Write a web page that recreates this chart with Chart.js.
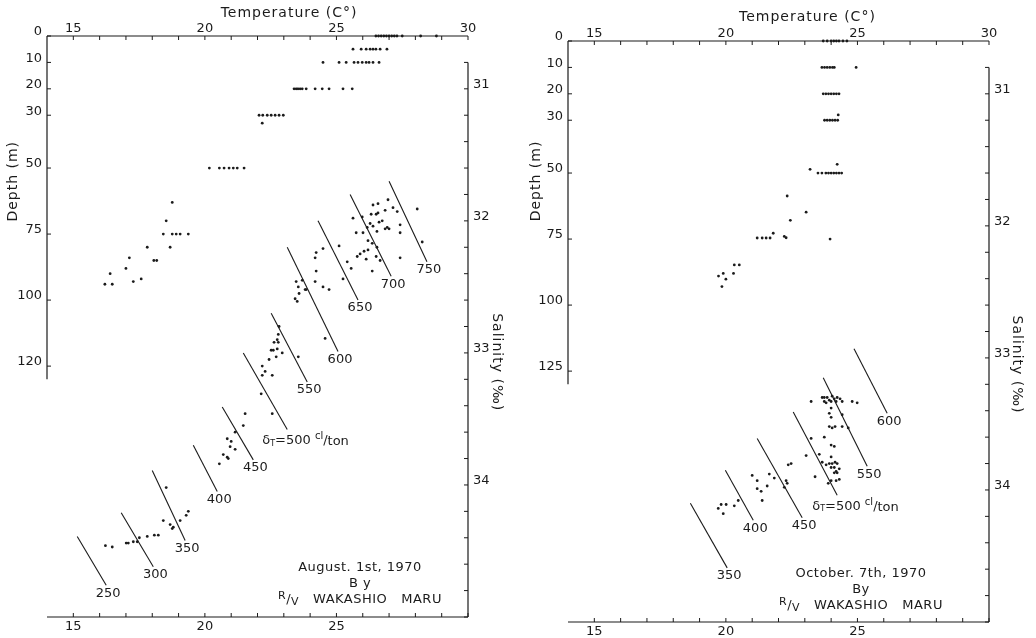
<!DOCTYPE html>
<html>
<head>
<meta charset="utf-8">
<script src="https://cdn.jsdelivr.net/npm/chart.js@4.4.0/dist/chart.umd.min.js"></script>
<style>
  html, body { margin: 0; padding: 0; background: #fff; }
  #wrap { position: relative; width: 1036px; height: 638px; }
  .panel { position: absolute; top: 0; width: 518px; height: 638px; }
</style>
</head>
<body>
<div id="wrap">
  <div class="panel" style="left:0"><canvas id="chartAug" width="518" height="638"></canvas></div>
  <div class="panel" style="left:518px"><canvas id="chartOct" width="518" height="638"></canvas></div>
</div>
<script>
// ---- axes ----
const tempTicks = [15, 16, 17, 18, 19, 20, 21, 22, 23, 24, 25, 26, 27, 28, 29, 30];
const tempLabelsTop = [15, 20, 25, 30];
const tempLabelsBottom = [15, 20, 25];
const depthTicks = [0, 10, 20, 30, 50, 75, 100, 125];
const depthLabelsAug = ['0', '10', '20', '30', '50', '75', '100', '120'];
const depthLabelsOct = ['0', '10', '20', '30', '50', '75', '100', '125'];
const salTicks = [30.8, 31, 31.2, 31.4, 31.6, 31.8, 32, 32.2, 32.4, 32.6, 32.8, 33,
                  33.2, 33.4, 33.6, 33.8, 34, 34.2, 34.4, 34.6, 34.8, 35];
const salLabels = [31, 32, 33, 34];

// ---- August 1st: temperature (C) vs depth (m) ----
const augProfile = [
  [26.5,0],[26.6,0],[26.7,0],[26.8,0],[26.9,0],[27.0,0],[27.1,0],[27.2,0],[27.3,0],[27.5,0],[28.2,0],[28.8,0],
  [25.63,5],[25.94,5],[26.13,5],[26.28,5],[26.39,5],[26.5,5],[26.66,5],[26.92,5],
  [24.49,10],[25.1,10],[25.37,10],[25.67,10],[25.82,10],[25.98,10],[26.13,10],[26.24,10],[26.39,10],[26.62,10],
  [23.39,20],[23.47,20],[23.54,20],[23.62,20],[23.7,20],[23.85,20],[24.19,20],[24.46,20],[24.72,20],[25.25,20],[25.6,20],
  [22.06,30],[22.2,30],[22.37,30],[22.52,30],[22.67,30],[22.82,30],[22.98,30],[22.18,33],
  [20.17,50],[20.55,50],[20.73,50],[20.92,50],[21.08,50],[21.23,50],[21.49,50],
  [18.76,63],[18.53,70],[18.42,75],[18.76,75],[18.91,75],[19.06,75],[19.37,75],[18.68,80],[17.81,80],
  [17.13,84],[18.06,85],[18.17,85],[17.0,88],[16.4,90],[16.2,94],[16.48,94],[17.28,93],[17.58,92]
];
// August 1st: temperature vs salinity
const augTS = [
  [26.39,31.88],[26.58,31.87],[26.96,31.84],[26.32,31.95],[26.51,31.95],[26.58,31.94],[26.85,31.92],[27.15,31.90],[27.31,31.93],[28.07,31.91],
  [25.63,31.98],[25.98,31.97],[26.28,32.02],[26.39,32.04],[26.62,32.01],[26.74,32.00],[26.17,32.05],[26.54,32.08],[26.85,32.06],[26.93,32.05],
  [27.00,32.06],[27.42,32.03],[25.75,32.09],[26.01,32.09],[27.42,32.09],[26.20,32.15],[26.36,32.17],[25.10,32.19],[26.54,32.20],[24.49,32.21],
  [24.23,32.24],[24.19,32.28],[26.05,32.23],[26.20,32.22],[25.90,32.25],[25.79,32.27],[26.13,32.29],[26.51,32.27],[26.66,32.30],[27.42,32.28],
  [28.26,32.16],[25.41,32.31],[25.56,32.36],[24.23,32.38],[26.36,32.38],[24.19,32.46],[24.49,32.50],[24.72,32.52],[25.25,32.44],[23.81,32.52],
  [23.47,32.46],[23.55,32.50],[23.70,32.45],[23.85,32.52],[23.58,32.55],[23.43,32.59],[23.51,32.61],[24.57,32.89],[22.82,32.80],[22.79,32.86],
  [22.75,32.90],[22.63,32.92],[22.79,32.92],[22.52,32.98],[22.60,32.98],[22.94,33.00],[22.75,32.97],[22.44,33.05],[22.71,33.03],[23.55,33.03],
  [22.18,33.10],[22.29,33.14],[22.18,33.17],[22.56,33.17],[22.14,33.31],[22.56,33.46],[21.53,33.46],[21.46,33.55],[21.15,33.60],[20.85,33.65],
  [21.00,33.67],[20.96,33.71],[21.15,33.73],[20.70,33.77],[20.85,33.79],[20.89,33.80],[20.55,33.84],[18.53,34.02],[18.42,34.27],[18.68,34.30],
  [18.76,34.33],[18.80,34.32],[19.06,34.27],[19.29,34.23],[19.37,34.20],[18.08,34.38],[18.23,34.38],[17.81,34.39],[17.51,34.40],[17.43,34.43],
  [17.28,34.43],[17.09,34.44],[17.01,34.44],[16.22,34.46],[16.48,34.47]
];
// specific volume anomaly lines (cl/ton), [temp, salinity] at each end
const augIsoValues = [250, 300, 350, 400, 450, 500, 550, 600, 650, 700, 750];
const augIsoStart = [[15.15,34.39],[16.82,34.21],[18.00,33.89],[19.56,33.70],[20.66,33.41],[21.46,33.00],
                     [22.52,32.70],[23.13,32.20],[24.30,32.00],[25.52,31.80],[27.00,31.70]];
const augIsoEnd = [[16.25,34.76],[18.04,34.62],[19.25,34.42],[20.47,34.05],[21.84,33.81],[23.13,33.58],
                   [23.89,33.22],[25.06,32.99],[25.82,32.60],[27.08,32.42],[28.44,32.31]];

// ---- October 7th ----
const octProfile = [
  [23.7,0],[23.85,0],[24.0,0],[24.1,0],[24.2,0],[24.3,0],[24.45,0],[24.6,0],
  [23.65,10],[23.75,10],[23.85,10],[23.95,10],[24.05,10],[24.12,10],[24.95,10],
  [23.7,20],[23.8,20],[23.9,20],[24.0,20],[24.1,20],[24.2,20],[24.3,20],
  [23.75,30],[23.85,30],[23.95,30],[24.05,30],[24.15,30],[24.25,30],[24.27,28],
  [23.5,50],[23.65,50],[23.8,50],[23.9,50],[24.0,50],[24.1,50],[24.2,50],[24.3,50],[24.4,50],[23.2,48.6],[24.23,46.7],
  [22.33,58.7],[23.05,64.8],[22.45,67.9],[23.96,75],
  [21.19,74.6],[21.38,74.6],[21.53,74.6],[21.68,74.6],[21.8,72.8],[22.22,74],[22.29,74.5],
  [20.32,84.8],[20.51,84.8],[20.29,88],[19.9,88],[19.72,89],[20.0,90.2],[19.85,93]
];
const octTS = [
  [23.24,33.33],[23.66,33.30],[23.74,33.33],[23.81,33.34],[23.85,33.30],[23.93,33.32],[24.00,33.33],[24.04,33.29],[24.12,33.31],[24.19,33.33],
  [24.23,33.30],[24.34,33.31],[24.42,33.33],[23.74,33.30],[24.80,33.33],[24.99,33.34],[24.00,33.38],[23.93,33.42],[24.00,33.45],[24.42,33.43],
  [23.93,33.52],[24.04,33.53],[24.15,33.52],[24.42,33.52],[24.65,33.53],[23.24,33.61],[23.74,33.60],[24.00,33.66],[24.12,33.67],[23.05,33.74],
  [23.55,33.73],[24.00,33.75],[23.66,33.79],[23.81,33.81],[23.93,33.80],[24.04,33.80],[24.15,33.79],[24.23,33.80],[24.12,33.83],[24.19,33.86],
  [24.31,33.84],[24.00,33.83],[24.12,33.87],[24.23,33.87],[23.89,33.95],[24.00,33.93],[24.19,33.93],[24.31,33.92],[23.39,33.90],[22.37,33.81],
  [22.48,33.80],[22.29,33.93],[22.33,33.95],[22.22,33.98],[21.00,33.89],[21.19,33.93],[21.19,33.99],[21.34,34.01],[21.57,33.97],[21.65,33.88],
  [21.84,33.91],[21.38,34.08],[20.47,34.08],[19.71,34.14],[19.90,34.18],[20.01,34.11],[19.82,34.11],[20.32,34.12]
];
const octIsoValues = [350, 400, 450, 500, 550, 600];
const octIsoStart = [[18.65,34.10],[19.98,33.85],[21.19,33.61],[22.56,33.41],[23.70,33.15],[24.87,32.93]];
const octIsoEnd = [[20.05,34.59],[21.04,34.23],[22.90,34.21],[24.23,34.04],[25.37,33.82],[26.13,33.42]];

const INK = '#1b1b1b';
const FONT = '"DejaVu Sans", sans-serif';
const TICK = 4;

// draws the axis frame, inward ticks, titles and notes from the chart's own scales
const framePlugin = {
  id: 'frame',
  afterDatasetsDraw(chart, args, o) {
    const ctx = chart.ctx, a = chart.chartArea;
    const xb = chart.scales.x, xt = chart.scales.xTop, yd = chart.scales.yDepth, ys = chart.scales.ySal;
    ctx.save();
    ctx.strokeStyle = INK;
    ctx.lineWidth = 1.2;
    ctx.beginPath();
    ctx.moveTo(a.left, a.top); ctx.lineTo(a.right, a.top);
    ctx.moveTo(a.left, a.bottom); ctx.lineTo(a.right, a.bottom);
    ctx.moveTo(a.left, yd.getPixelForValue(0)); ctx.lineTo(a.left, yd.getPixelForValue(o.depthEnd));
    ctx.moveTo(a.right, ys.getPixelForValue(salTicks[0])); ctx.lineTo(a.right, ys.getPixelForValue(35));
    ctx.stroke();

    ctx.lineWidth = 1;
    ctx.beginPath();
    xt.ticks.forEach(t => { const p = xt.getPixelForValue(t.value); ctx.moveTo(p, a.top); ctx.lineTo(p, a.top + TICK); });
    xb.ticks.forEach(t => { const p = xb.getPixelForValue(t.value); ctx.moveTo(p, a.bottom); ctx.lineTo(p, a.bottom - TICK); });
    yd.ticks.forEach(t => { const p = yd.getPixelForValue(t.value); ctx.moveTo(a.left, p); ctx.lineTo(a.left + TICK, p); });
    ys.ticks.forEach(t => { const p = ys.getPixelForValue(t.value); ctx.moveTo(a.right, p); ctx.lineTo(a.right - TICK, p); });
    ctx.stroke();

    // axis titles
    ctx.fillStyle = INK;
    ctx.textAlign = 'center';
    ctx.textBaseline = 'middle';
    ctx.font = '14px ' + FONT;
    ctx.letterSpacing = '1px';
    ctx.fillText('Temperature (C°)', xt.getPixelForValue(o.tempTitleAt), a.top - o.tempTitleGap);
    ctx.save();
    ctx.translate(a.left - o.depthTitleGap, yd.getPixelForValue(o.depthTitleAt));
    ctx.rotate(-Math.PI / 2);
    ctx.fillText('Depth (m)', 0, 0);
    ctx.restore();
    ctx.save();
    ctx.translate(a.right + o.salTitleGap, ys.getPixelForValue(o.salTitleAt));
    ctx.rotate(Math.PI / 2);
    ctx.fillText('Salinity (‰)', 0, 0);
    ctx.restore();
    ctx.letterSpacing = '0px';

    // labels at the lower end of each anomaly line
    o.isoValues.forEach((v, i) => {
      const px = xb.getPixelForValue(o.isoEnd[i][0]);
      const py = ys.getPixelForValue(o.isoEnd[i][1]);
      if (v === 500) {
        drawSigmaLabel(ctx, px - 25, py + 11, v);
      } else {
        ctx.textAlign = 'center';
        ctx.font = '13px ' + FONT;
        ctx.fillText(String(v), px + 2, py + 8);
      }
    });

    // cruise note
    ctx.textAlign = 'center';
    ctx.font = '13px ' + FONT;
    ctx.letterSpacing = '0.5px';
    ctx.fillText(o.dateText, o.note.x, o.note.y);
    ctx.fillText(o.byText, o.note.x, o.note.y + 16);
    drawShipLine(ctx, o.note.x, o.note.y + 32);
    ctx.restore();
  }
};

function drawSigmaLabel(ctx, x, y, value) {
  let cx = x;
  const part = (txt, size, dy) => {
    ctx.font = size + 'px ' + FONT;
    ctx.textAlign = 'left';
    ctx.fillText(txt, cx, y + dy);
    cx += ctx.measureText(txt).width;
  };
  part('δ', 13, 0); part('T', 8, 3); part('=' + value + ' ', 13, 0);
  part('cl', 10, -4); part('/', 13, 0); part('ton', 13, 1);
}

function drawShipLine(ctx, cx, y) {
  const pieces = [['R', 11, -4], ['/', 13, 0], ['V', 11, 2], ['   WAKASHIO   MARU', 13, 0]];
  let total = 0;
  pieces.forEach(p => { ctx.font = p[1] + 'px ' + FONT; total += ctx.measureText(p[0]).width; });
  let x = cx - total / 2;
  ctx.textAlign = 'left';
  pieces.forEach(p => {
    ctx.font = p[1] + 'px ' + FONT;
    ctx.fillText(p[0], x, y + p[2]);
    x += ctx.measureText(p[0]).width;
  });
}

function toXY(pairs) {
  return pairs.map(p => ({ x: p[0], y: p[1] }));
}

function makePanel(canvasId, lay, profile, ts, isoValues, isoStart, isoEnd, depthLabels, notes) {
  const hidden = { display: false, drawTicks: false };
  const tickFont = { family: FONT, size: 13 };
  const datasets = [
    { label: 'Depth profile', data: toXY(profile), xAxisID: 'x', yAxisID: 'yDepth',
      pointRadius: 1.4, backgroundColor: INK, borderWidth: 0, clip: false },
    { label: 'T-S', data: toXY(ts), xAxisID: 'x', yAxisID: 'ySal',
      pointRadius: 1.4, backgroundColor: INK, borderWidth: 0, clip: false }
  ];
  isoValues.forEach((v, i) => {
    datasets.push({
      label: String(v), data: toXY([isoStart[i], isoEnd[i]]), xAxisID: 'x', yAxisID: 'ySal',
      showLine: true, pointRadius: 0, borderColor: INK, borderWidth: 1.1, clip: false
    });
  });

  new Chart(document.getElementById(canvasId), {
    type: 'scatter',
    data: { datasets },
    options: {
      responsive: false,
      animation: false,
      layout: { padding: 0 },
      plugins: {
        legend: { display: false },
        tooltip: { enabled: false },
        frame: Object.assign({ isoValues, isoEnd }, notes)
      },
      scales: {
        x: {
          type: 'linear', position: 'bottom', min: 14, max: 30,
          grid: hidden, border: { display: false },
          afterBuildTicks: s => { s.ticks = tempTicks.map(v => ({ value: v })); },
          ticks: { autoSkip: false, maxRotation: 0, padding: 2, font: tickFont, color: INK,
                   callback: v => tempLabelsBottom.includes(v) ? String(v) : '' },
          afterFit: s => { s.height = lay.bottomH; }
        },
        xTop: {
          type: 'linear', position: 'top', min: 14, max: 30,
          grid: hidden, border: { display: false },
          afterBuildTicks: s => { s.ticks = tempTicks.map(v => ({ value: v })); },
          ticks: { autoSkip: false, maxRotation: 0, padding: 0, font: tickFont, color: INK,
                   callback: v => tempLabelsTop.includes(v) ? String(v) : '' },
          afterFit: s => { s.height = lay.topH; }
        },
        yDepth: {
          type: 'linear', position: 'left', min: 0, max: 220, reverse: true,
          grid: hidden, border: { display: false },
          afterBuildTicks: s => { s.ticks = depthTicks.map(v => ({ value: v })); },
          ticks: { autoSkip: false, padding: 5, labelOffset: -4, font: tickFont, color: INK,
                   callback: (v, i) => depthLabels[i] },
          afterFit: s => { s.width = lay.leftW; }
        },
        ySal: {
          type: 'linear', position: 'right', min: 30.6, max: 35, reverse: true,
          grid: hidden, border: { display: false },
          afterBuildTicks: s => { s.ticks = salTicks.map(v => ({ value: v })); },
          ticks: { autoSkip: false, padding: 5, labelOffset: -4, font: tickFont, color: INK,
                   callback: v => salLabels.includes(v) ? String(v) : '' },
          afterFit: s => { s.width = lay.rightW; }
        }
      }
    },
    plugins: [framePlugin]
  });
}

makePanel('chartAug', { leftW: 47, rightW: 50, topH: 36, bottomH: 21 },
  augProfile, augTS, augIsoValues, augIsoStart, augIsoEnd, depthLabelsAug,
  { depthEnd: 130, tempTitleAt: 23.2, tempTitleGap: 23, depthTitleGap: 34, depthTitleAt: 55,
    salTitleGap: 29, salTitleAt: 33.07,
    dateText: 'August. 1st, 1970', byText: 'B y', note: { x: 360, y: 568 } });

makePanel('chartOct', { leftW: 50, rightW: 47, topH: 41, bottomH: 16 },
  octProfile, octTS, octIsoValues, octIsoStart, octIsoEnd, depthLabelsOct,
  { depthEnd: 130, tempTitleAt: 23.1, tempTitleGap: 24, depthTitleGap: 32, depthTitleAt: 53,
    salTitleGap: 28, salTitleAt: 33.05,
    dateText: 'October. 7th, 1970', byText: 'By', note: { x: 343, y: 574 } });
</script>
</body>
</html>
